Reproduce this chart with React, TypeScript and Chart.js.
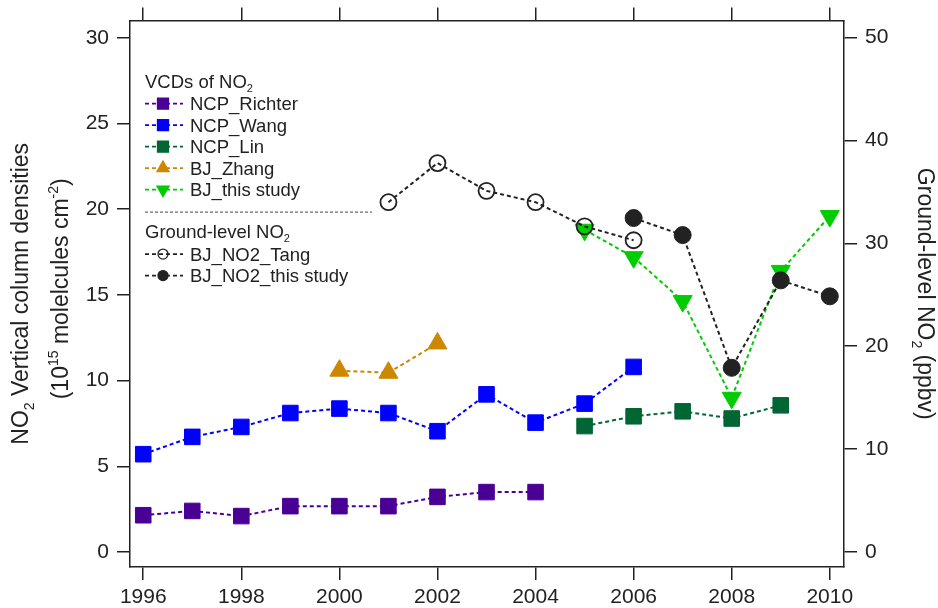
import React, { useEffect, useRef } from 'react';
import { Chart, registerables } from 'chart.js';

Chart.register(...registerables);

// ---------- data ----------
const yearTicks = [1996, 1998, 2000, 2002, 2004, 2006, 2008, 2010];
const vcdTicks = [0, 5, 10, 15, 20, 25, 30];
const groundTicks = [0, 10, 20, 30, 40, 50];

const richterYears = [1996, 1997, 1998, 1999, 2000, 2001, 2002, 2003, 2004];
const richterValues = [2.15, 2.4, 2.1, 2.68, 2.68, 2.68, 3.22, 3.5, 3.5];

const wangYears = [1996, 1997, 1998, 1999, 2000, 2001, 2002, 2003, 2004, 2005, 2006];
const wangValues = [5.71, 6.72, 7.3, 8.11, 8.37, 8.11, 7.05, 9.2, 7.55, 8.66, 10.8];

const linYears = [2005, 2006, 2007, 2008, 2009];
const linValues = [7.35, 7.92, 8.21, 7.79, 8.56];

const zhangYears = [2000, 2001, 2002];
const zhangValues = [10.58, 10.46, 12.17];

const bjStudyYears = [2005, 2006, 2007, 2008, 2009, 2010];
const bjStudyValues = [18.8, 17.2, 14.64, 9.0, 16.4, 19.6];

const tangYears = [2001, 2002, 2003, 2004, 2005, 2006];
const tangValues = [34.0, 37.8, 35.1, 34.0, 31.65, 30.3];

const groundStudyYears = [2006, 2007, 2008, 2009, 2010];
const groundStudyValues = [32.46, 30.8, 17.9, 26.4, 24.85];

// ---------- styling ----------
const FAMILY = '"Liberation Sans", Arial, sans-serif';
const INK = '#222222';
const LEGEND_FONT = 18.5;

type Seg = { t: string; s?: 'sub' | 'sup' };

function drawRich(
  ctx: CanvasRenderingContext2D,
  segs: Seg[],
  x: number,
  y: number,
  rot: number,
  size: number,
  align: 'left' | 'center',
  color: string
) {
  ctx.save();
  ctx.translate(x, y);
  ctx.rotate(rot);
  const small = Math.round(size * 0.62);
  const widths = segs.map((s) => {
    ctx.font = `${s.s ? small : size}px ${FAMILY}`;
    return ctx.measureText(s.t).width;
  });
  const total = widths.reduce((a, b) => a + b, 0);
  let cx = align === 'center' ? -total / 2 : 0;
  ctx.textBaseline = 'alphabetic';
  ctx.textAlign = 'left';
  ctx.fillStyle = color;
  segs.forEach((s, i) => {
    ctx.font = `${s.s ? small : size}px ${FAMILY}`;
    const dy = s.s === 'sub' ? size * 0.25 : s.s === 'sup' ? -size * 0.45 : 0;
    ctx.fillText(s.t, cx, dy);
    cx += widths[i];
  });
  ctx.restore();
}

function drawMarker(ctx: CanvasRenderingContext2D, ds: any, x: number, y: number) {
  const style = ds.pointStyle;
  const fill = ds.pointBackgroundColor;
  const stroke = ds.pointBorderColor;
  ctx.save();
  ctx.beginPath();
  if (style === 'rect') {
    ctx.rect(x - 5.5, y - 5.5, 11, 11);
  } else if (style === 'triangle') {
    const down = ds.pointRotation === 180;
    const r = 7;
    const s = down ? -1 : 1;
    ctx.moveTo(x, y - s * r);
    ctx.lineTo(x + r * 0.866, y + s * r * 0.5);
    ctx.lineTo(x - r * 0.866, y + s * r * 0.5);
    ctx.closePath();
  } else {
    ctx.arc(x, y, 5, 0, Math.PI * 2);
  }
  ctx.fillStyle = fill;
  ctx.fill();
  ctx.lineWidth = 1.3;
  ctx.strokeStyle = stroke;
  ctx.stroke();
  ctx.restore();
}

function drawLegendRow(ctx: CanvasRenderingContext2D, ds: any, left: number, baseline: number) {
  const cy = baseline - 6.5;
  ctx.save();
  ctx.strokeStyle = ds.borderColor;
  ctx.lineWidth = 1.6;
  ctx.setLineDash([4, 3]);
  ctx.beginPath();
  ctx.moveTo(left, cy);
  ctx.lineTo(left + 38, cy);
  ctx.stroke();
  ctx.restore();
  drawMarker(ctx, ds, left + 18, cy);
  drawRich(ctx, [{ t: ds.label }], left + 45, baseline, 0, LEGEND_FONT, 'left', INK);
}

const overlayPlugin = {
  id: 'overlay',
  afterDraw(chart: any) {
    const ctx: CanvasRenderingContext2D = chart.ctx;
    const a = chart.chartArea;
    const ds = chart.data.datasets;
    const L = a.left + 15;

    // legend
    drawRich(ctx, [{ t: 'VCDs of NO' }, { t: '2', s: 'sub' }], L, a.top + 67, 0, LEGEND_FONT, 'left', INK);
    const vcdRows = [0, 1, 2, 3, 4];
    vcdRows.forEach((idx, i) => drawLegendRow(ctx, ds[idx], L, a.top + 89.5 + i * 21.5));
    ctx.save();
    ctx.strokeStyle = '#444';
    ctx.lineWidth = 1;
    ctx.setLineDash([3, 2]);
    ctx.beginPath();
    ctx.moveTo(L, a.top + 191.5);
    ctx.lineTo(L + 227, a.top + 191.5);
    ctx.stroke();
    ctx.restore();
    drawRich(ctx, [{ t: 'Ground-level NO' }, { t: '2', s: 'sub' }], L, a.top + 217, 0, LEGEND_FONT, 'left', INK);
    [5, 6].forEach((idx, i) => drawLegendRow(ctx, ds[idx], L, a.top + 240 + i * 21.5));

    // axis titles
    const midY = (a.top + a.bottom) / 2;
    drawRich(
      ctx,
      [{ t: 'NO' }, { t: '2', s: 'sub' }, { t: ' Vertical column densities' }],
      28,
      midY,
      -Math.PI / 2,
      23,
      'center',
      INK
    );
    drawRich(
      ctx,
      [{ t: '(10' }, { t: '15', s: 'sup' }, { t: ' molelcules cm' }, { t: '-2', s: 'sup' }, { t: ')' }],
      68,
      midY - 5,
      -Math.PI / 2,
      23,
      'center',
      INK
    );
    drawRich(
      ctx,
      [{ t: 'Ground-level NO' }, { t: '2', s: 'sub' }, { t: ' (ppbv)' }],
      918,
      midY,
      Math.PI / 2,
      23,
      'center',
      INK
    );
  },
};

const pts = (xs: number[], ys: number[]) => xs.map((x, i) => ({ x, y: ys[i] }));

function series(label: string, xs: number[], ys: number[], color: string, extra: any) {
  return {
    label,
    data: pts(xs, ys),
    borderColor: color,
    backgroundColor: color,
    pointBackgroundColor: color,
    pointBorderColor: color,
    borderWidth: 2,
    borderDash: [4, 3],
    tension: 0,
    pointBorderWidth: 1,
    xAxisID: 'x',
    ...extra,
  };
}

const axisCommon = {
  grid: { drawOnChartArea: false, drawTicks: true, tickLength: 13, color: INK, tickColor: INK, lineWidth: 1.5 },
  border: { display: true, color: INK, width: 1.5 },
};

const tickFont = { family: FAMILY, size: 21 };

export default function App() {
  const ref = useRef<HTMLCanvasElement>(null);
  useEffect(() => {
    document.body.style.margin = '0';
    const datasets = [
      series('NCP_Richter', richterYears, richterValues, '#4a0095', { yAxisID: 'y', pointStyle: 'rect', pointRadius: 11, order: 6 }),
      series('NCP_Wang', wangYears, wangValues, '#0000ff', { yAxisID: 'y', pointStyle: 'rect', pointRadius: 11, order: 5 }),
      series('NCP_Lin', linYears, linValues, '#006633', { yAxisID: 'y', pointStyle: 'rect', pointRadius: 11, order: 4 }),
      series('BJ_Zhang', zhangYears, zhangValues, '#cc8800', { yAxisID: 'y', pointStyle: 'triangle', pointRadius: 11, order: 3 }),
      series('BJ_this study', bjStudyYears, bjStudyValues, '#00cc00', {
        yAxisID: 'y',
        pointStyle: 'triangle',
        pointRotation: 180,
        pointRadius: 11,
        order: 2,
      }),
      series('BJ_NO2_Tang', tangYears, tangValues, '#222222', {
        yAxisID: 'y2',
        pointStyle: 'circle',
        pointRadius: 8,
        pointBorderWidth: 1.8,
        pointBackgroundColor: 'rgba(0,0,0,0)',
        order: 1,
      }),
      series('BJ_NO2_this study', groundStudyYears, groundStudyValues, '#222222', {
        yAxisID: 'y2',
        pointStyle: 'circle',
        pointRadius: 8.5,
        order: 0,
      }),
    ];
    const chart = new Chart(ref.current as HTMLCanvasElement, {
      type: 'line',
      data: { datasets } as any,
      options: {
        responsive: false,
        animation: false,
        devicePixelRatio: 1,
        events: [],
        layout: { padding: 0, autoPadding: false },
        plugins: { legend: { display: false }, tooltip: { enabled: false }, title: { display: false } },
        scales: {
          x: {
            type: 'linear',
            position: 'bottom',
            min: 1995.73,
            max: 2010.29,
            afterBuildTicks: (s: any) => {
              s.ticks = yearTicks.map((v) => ({ value: v }));
            },
            afterFit: (s: any) => {
              s.height = 41;
            },
            ticks: {
              color: INK,
              font: tickFont,
              padding: 5,
              maxRotation: 0,
              autoSkip: false,
              callback: (v: any) => String(v),
            },
            ...axisCommon,
          },
          x2: {
            type: 'linear',
            position: 'top',
            min: 1995.73,
            max: 2010.29,
            afterBuildTicks: (s: any) => {
              s.ticks = yearTicks.map((v) => ({ value: v }));
            },
            afterFit: (s: any) => {
              s.height = 20;
            },
            ticks: { display: false },
            ...axisCommon,
          },
          y: {
            type: 'linear',
            position: 'left',
            min: -0.87,
            max: 31.0,
            afterBuildTicks: (s: any) => {
              s.ticks = vcdTicks.map((v) => ({ value: v }));
            },
            afterFit: (s: any) => {
              s.width = 130;
            },
            ticks: { color: INK, font: tickFont, padding: 8, callback: (v: any) => String(v) },
            ...axisCommon,
          },
          y2: {
            type: 'linear',
            position: 'right',
            min: -1.46,
            max: 51.65,
            afterBuildTicks: (s: any) => {
              s.ticks = groundTicks.map((v) => ({ value: v }));
            },
            afterFit: (s: any) => {
              s.width = 94;
            },
            ticks: { color: INK, font: tickFont, padding: 8, callback: (v: any) => String(v) },
            ...axisCommon,
          },
        },
      } as any,
      plugins: [overlayPlugin],
    });
    return () => chart.destroy();
  }, []);
  return (
    <div style={{ position: 'relative', width: 938, height: 608 }}>
      <canvas ref={ref} width={938} height={608} style={{ display: 'block', width: 938, height: 608 }} />
    </div>
  );
}
